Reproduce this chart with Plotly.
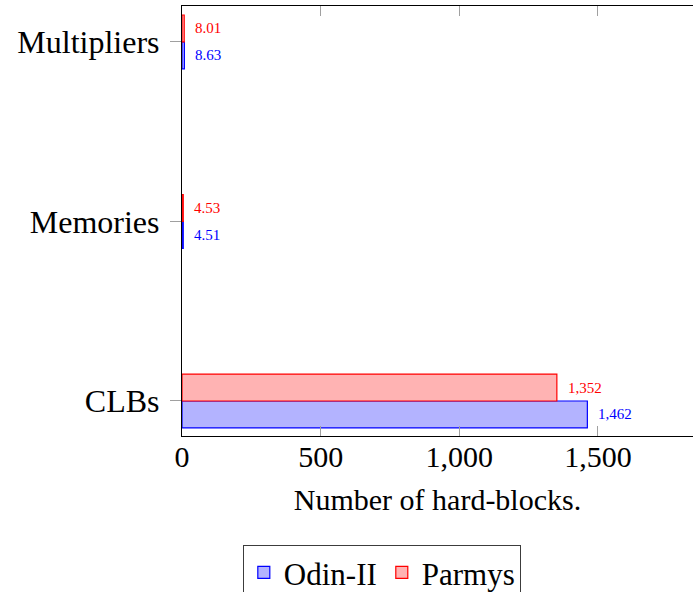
import plotly.graph_objects as go

categories = ["CLBs", "Memories", "Multipliers"]
odin_values = [1462, 4.51, 8.63]
parmys_values = [1352, 4.53, 8.01]
odin_labels = ["1,462", "4.51", "8.63"]
parmys_labels = ["1,352", "4.53", "8.01"]
x_ticks = [0, 500, 1000, 1500]
x_tick_labels = ["0", "500", "1,000", "1,500"]

SERIF = "Liberation Serif"

fig = go.Figure()
fig.add_trace(go.Bar(
    y=categories, x=odin_values, orientation="h", name="Odin-II",
    marker=dict(color="rgb(179,179,255)", line=dict(color="rgb(0,0,255)", width=1.2)),
))
fig.add_trace(go.Bar(
    y=categories, x=parmys_values, orientation="h", name="Parmys",
    marker=dict(color="rgb(255,179,179)", line=dict(color="rgb(255,0,0)", width=1.2)),
))

bar_w = 0.15
for i, cat in enumerate(categories):
    fig.add_annotation(x=odin_values[i], y=i - bar_w / 2, text=odin_labels[i],
                       xref="x", yref="y", showarrow=False, xanchor="left",
                       xshift=9, font=dict(family=SERIF, size=15, color="rgb(0,0,255)"))
    fig.add_annotation(x=parmys_values[i], y=i + bar_w / 2, text=parmys_labels[i],
                       xref="x", yref="y", showarrow=False, xanchor="left",
                       xshift=9, font=dict(family=SERIF, size=15, color="rgb(255,0,0)"))

fig.update_layout(
    width=693, height=592,
    margin=dict(l=182, r=0, t=6, b=156, autoexpand=False),
    paper_bgcolor="white", plot_bgcolor="white",
    barmode="group", bargap=0.7, bargroupgap=0,
    font=dict(family=SERIF, size=30, color="black"),
    showlegend=True,
    legend=dict(orientation="h", x=0.119, y=-0.253, xanchor="left", yanchor="top",
                bordercolor="rgb(60,60,60)", borderwidth=1,
                font=dict(family=SERIF, size=31), itemwidth=30,
                traceorder="normal"),
)
fig.update_xaxes(
    range=[0, 1843], tickvals=x_ticks, ticktext=x_tick_labels,
    ticks="inside", ticklen=10, tickcolor="rgb(160,160,160)", tickwidth=1,
    showline=True, linecolor="black", linewidth=1.2, mirror="ticks",
    showgrid=False, zeroline=False, automargin=False, ticklabelstandoff=-6,
    title=dict(text="Number of hard-blocks.", font=dict(family=SERIF, size=30), standoff=16),
    tickfont=dict(family=SERIF, size=30),
)
fig.update_yaxes(
    range=[-0.195, 2.2],
    ticks="outside", ticklen=11, tickcolor="rgb(160,160,160)", tickwidth=1,
    showline=True, linecolor="black", linewidth=1.2, mirror=False,
    showgrid=False, zeroline=False, ticklabelstandoff=4, automargin=False,
    tickfont=dict(family=SERIF, size=32),
)

fig.write_html("out.html", config={"displayModeBar": False},
               post_script="document.body.style.margin='0px';")
